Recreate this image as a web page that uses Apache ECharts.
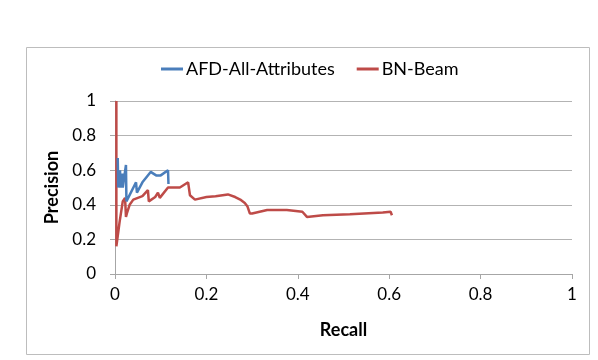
<!DOCTYPE html>
<html>
<head>
<meta charset="utf-8">
<script src="https://cdn.jsdelivr.net/npm/echarts@6/dist/echarts.min.js"></script>
<style>
  html, body { margin: 0; padding: 0; background: #fff; }
  #chart { width: 598px; height: 360px; }
</style>
</head>
<body>
<div id="chart"></div>
<script>
// AFD-All-Attributes
const afdRecall = [0.006, 0.007, 0.011, 0.012, 0.016, 0.017, 0.024, 0.025, 0.027, 0.046, 0.048, 0.06, 0.078, 0.09, 0.1, 0.104, 0.116, 0.117]
const afdPrecision = [0.67, 0.5, 0.6, 0.5, 0.58, 0.5, 0.63, 0.42, 0.42, 0.53, 0.47, 0.53, 0.59, 0.57, 0.57, 0.56, 0.6, 0.52]

// BN-Beam
const bnRecall = [0.003, 0.003, 0.01, 0.017, 0.022, 0.024, 0.026, 0.032, 0.04, 0.05, 0.06, 0.072, 0.074, 0.088, 0.094, 0.098, 0.116, 0.142, 0.16, 0.164, 0.175, 0.2, 0.22, 0.247, 0.263, 0.274, 0.284, 0.29, 0.295, 0.3, 0.333, 0.376, 0.41, 0.42, 0.455, 0.514, 0.586, 0.603, 0.606]
const bnPrecision = [1.0, 0.16, 0.3, 0.42, 0.44, 0.33, 0.35, 0.4, 0.43, 0.44, 0.45, 0.485, 0.42, 0.445, 0.47, 0.44, 0.5, 0.5, 0.53, 0.455, 0.43, 0.445, 0.45, 0.46, 0.445, 0.43, 0.41, 0.39, 0.35, 0.35, 0.37, 0.37, 0.36, 0.33, 0.34, 0.345, 0.355, 0.36, 0.34]

const xTicks = [0, 0.2, 0.4, 0.6, 0.8, 1]
const yTicks = [0, 0.2, 0.4, 0.6, 0.8, 1]

const pairs = (xs, ys) => xs.map((x, i) => [x, ys[i]])

const font = 'Lato, "Open Sans", sans-serif'
const chart = echarts.init(document.getElementById('chart'))
chart.setOption({
  animation: false,
  color: ['#4A7EBB', '#BE4B48'],
  textStyle: { fontFamily: font, color: '#000' },
  graphic: [{
    type: 'rect',
    shape: { x: 26.5, y: 47.5, width: 563, height: 307 },
    style: { fill: 'none', stroke: '#bdbdbd', lineWidth: 1 },
    silent: true
  }],
  legend: {
    left: 156,
    top: 55,
    icon: 'rect',
    itemWidth: 22,
    itemHeight: 3,
    itemGap: 22,
    textStyle: { fontSize: 18, color: '#000', fontFamily: font, padding: [0, 0, 0, -2] }
  },
  grid: {
    left: 115,
    right: 26,
    top: 101,
    bottom: 86,
    containLabel: false
  },
  xAxis: {
    type: 'value',
    min: xTicks[0],
    max: xTicks[xTicks.length - 1],
    interval: 0.2,
    name: 'Recall',
    nameLocation: 'middle',
    nameGap: 47,
    nameTextStyle: { fontSize: 18, fontWeight: 'bold', color: '#000', fontFamily: font },
    axisLine: { show: true, lineStyle: { color: '#a6a6a6', width: 1 } },
    axisTick: { show: true, length: 5, lineStyle: { color: '#a6a6a6' } },
    axisLabel: { fontSize: 17, color: '#000', margin: 12 },
    splitLine: { show: false }
  },
  yAxis: {
    type: 'value',
    min: yTicks[0],
    max: yTicks[yTicks.length - 1],
    interval: 0.2,
    name: 'Precision',
    nameLocation: 'middle',
    nameGap: 50,
    nameTextStyle: { fontSize: 18, fontWeight: 'bold', color: '#000', fontFamily: font },
    axisLine: { show: true, lineStyle: { color: '#a6a6a6', width: 1 } },
    axisTick: { show: true, length: 5, lineStyle: { color: '#a6a6a6' } },
    axisLabel: { fontSize: 17, color: '#000', margin: 19 },
    splitLine: { show: true, lineStyle: { color: '#b3b3b3', width: 1 } }
  },
  series: [
    {
      name: 'AFD-All-Attributes',
      type: 'line',
      data: pairs(afdRecall, afdPrecision),
      showSymbol: false,
      symbol: 'none',
      lineStyle: { width: 2.5 },
      z: 3
    },
    {
      name: 'BN-Beam',
      type: 'line',
      data: pairs(bnRecall, bnPrecision),
      showSymbol: false,
      symbol: 'none',
      lineStyle: { width: 2.5 },
      z: 2
    }
  ]
})
</script>
</body>
</html>
